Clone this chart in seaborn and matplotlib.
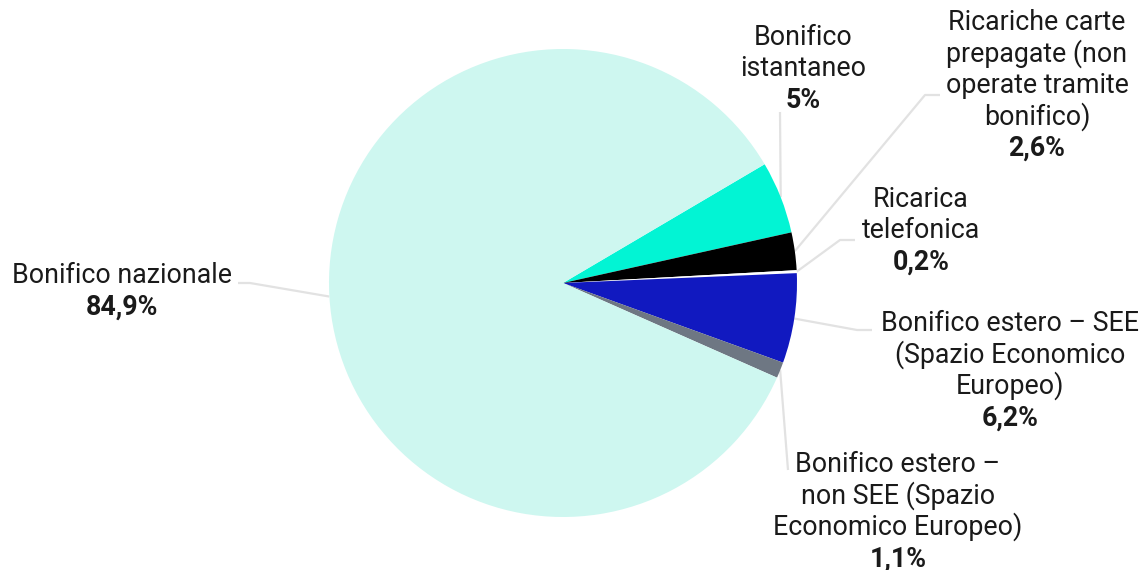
import numpy as np
import matplotlib
matplotlib.use("Agg")
import matplotlib.pyplot as plt
import seaborn as sns

# Share of operations by instrument (%)
categories = [
    "Bonifico istantaneo",
    "Ricariche carte prepagate (non operate tramite bonifico)",
    "Ricarica telefonica",
    "Bonifico estero – SEE (Spazio Economico Europeo)",
    "Bonifico estero – non SEE (Spazio Economico Europeo)",
    "Bonifico nazionale",
]
values = [5.0, 2.6, 0.2, 6.2, 1.1, 84.9]
value_labels = ["5%", "2,6%", "0,2%", "6,2%", "1,1%", "84,9%"]
label_lines = [
    ["Bonifico", "istantaneo"],
    ["Ricariche carte", "prepagate (non", "operate tramite", "bonifico)"],
    ["Ricarica", "telefonica"],
    ["Bonifico estero – SEE", "(Spazio Economico", "Europeo)"],
    ["Bonifico estero –", "non SEE (Spazio", "Economico Europeo)"],
    ["Bonifico nazionale"],
]
colors = ["#02f4d4", "#000000", "#ffffff", "#1119c0", "#6e7783", "#cef7f0"]

sns.set_theme(style="white")
plt.rcParams["font.family"] = ["Roboto", "DejaVu Sans"]

W, H = 1143, 570
fig = plt.figure(figsize=(W / 100, H / 100), dpi=100)
ax = fig.add_axes([0, 0, 1, 1])

cx, cy, r = 563, H - 283, 234
wedges, _ = ax.pie(values, colors=colors, startangle=30.5, counterclock=False,
                   center=(cx, cy), radius=r, frame=True,
                   wedgeprops=dict(linewidth=0))
ax.set_xlim(0, W)
ax.set_ylim(0, H)
ax.set_aspect("equal")
ax.axis("off")

# label layout: text centre x, first baseline (px from top), leader elbow/end (px from top)
layout = [
    dict(x=803, y0=45, pts=[(780, 112)]),
    dict(x=1037, y0=30, pts=[(925, 95), (940, 95)]),
    dict(x=921, y0=207, pts=[(840, 240), (855, 240)]),
    dict(x=1010, y0=331, pts=[(857, 330), (872, 330)]),
    dict(x=898, y0=472, pts=[(788, 470)]),
    dict(x=122, y0=283, pts=[(250, 283), (238, 283)]),
]
step = 31.4
fs = 19.3
line_col = "#e2e2e2"
txt_col = "#1a1a1a"

for w, lines, pct, lay in zip(wedges, label_lines, value_labels, layout):
    mid = np.deg2rad((w.theta1 + w.theta2) / 2)
    rim = (cx + r * np.cos(mid), cy + r * np.sin(mid))
    xs = [rim[0]] + [p[0] for p in lay["pts"]]
    ys = [rim[1]] + [H - p[1] for p in lay["pts"]]
    ax.plot(xs, ys, color=line_col, lw=1.6, solid_capstyle="butt", zorder=0)
    for i, t in enumerate(lines + [pct]):
        ax.text(lay["x"], H - (lay["y0"] + i * step), t, ha="center",
                va="baseline", fontsize=fs, color=txt_col,
                fontweight="bold" if t == pct else "normal")

fig.savefig("out.png", dpi=100, facecolor="white")
